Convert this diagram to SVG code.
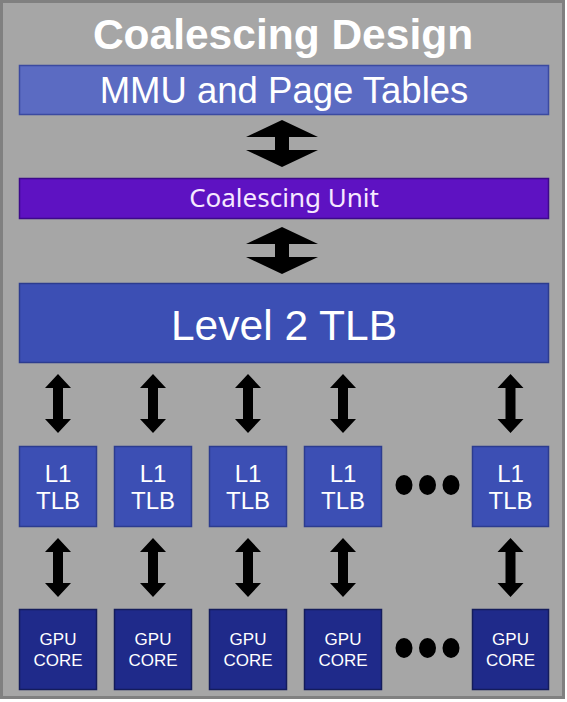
<svg xmlns="http://www.w3.org/2000/svg" xmlns:xlink="http://www.w3.org/1999/xlink" width="567" height="702" viewBox="0 0 567 702">
<style>
.t{font-family:"Liberation Sans",Arial,sans-serif;fill:#ffffff;text-anchor:middle}
.l1{fill:#3c4fb4;stroke:#2c3c8f;stroke-width:1.5}
.gpu{fill:#1f2a8a;stroke:#141c5c;stroke-width:1.5}
.arr{fill:#000000}
.dot{fill:#000000}
</style>
<defs>
<path id="sa" d="M0,0 L13,14 L5,14 L5,45 L13,45 L0,59 L-13,45 L-5,45 L-5,14 L-13,14 Z"/>
<path id="ba" d="M0,0 L36,17 L7,17 L7,30 L36,30 L0,47 L-36,30 L-7,30 L-7,17 L-36,17 Z"/>
</defs>
<rect x="1.5" y="1.5" width="562" height="696" fill="#a6a6a6" stroke="#808080" stroke-width="3"/>
<text class="t" x="283" y="49" font-size="42.5" font-weight="bold">Coalescing Design</text>
<g id="mmu">
<rect x="19.5" y="65.5" width="529" height="49" fill="#5b6bc2" stroke="#3b4aa0" stroke-width="1.5"/>
<text class="t" x="284" y="103" font-size="36.5">MMU and Page Tables</text>
</g>
<g id="coalescing">
<rect x="19.5" y="178.5" width="529" height="40" fill="#5e12c2" stroke="#3d0a8a" stroke-width="1.5"/>
<text x="284" y="207" font-size="26" font-family="'Noto Sans','Open Sans',sans-serif" fill="#f6e8ff" text-anchor="middle">Coalescing Unit</text>
</g>
<g id="l2tlb">
<rect x="19.5" y="283.5" width="529" height="79" fill="#3c4fb4" stroke="#2c3c8f" stroke-width="1.5"/>
<text class="t" x="284" y="340" font-size="42.5">Level 2 TLB</text>
</g>
<g id="l1tlb1"><rect class="l1" x="19.5" y="446.5" width="77" height="80"/><text class="t" x="58" y="482" font-size="24">L1</text><text class="t" x="58" y="509" font-size="24">TLB</text></g>
<g id="l1tlb2"><rect class="l1" x="114.5" y="446.5" width="77" height="80"/><text class="t" x="153" y="482" font-size="24">L1</text><text class="t" x="153" y="509" font-size="24">TLB</text></g>
<g id="l1tlb3"><rect class="l1" x="209.5" y="446.5" width="77" height="80"/><text class="t" x="248" y="482" font-size="24">L1</text><text class="t" x="248" y="509" font-size="24">TLB</text></g>
<g id="l1tlb4"><rect class="l1" x="304.5" y="446.5" width="77" height="80"/><text class="t" x="343" y="482" font-size="24">L1</text><text class="t" x="343" y="509" font-size="24">TLB</text></g>
<g id="l1tlb5"><rect class="l1" x="472.5" y="446.5" width="76" height="80"/><text class="t" x="510.5" y="482" font-size="24">L1</text><text class="t" x="510.5" y="509" font-size="24">TLB</text></g>
<g id="gpu1"><rect class="gpu" x="19.5" y="609.5" width="77" height="80"/><text class="t" x="58" y="645" font-size="17">GPU</text><text class="t" x="58" y="666" font-size="17">CORE</text></g>
<g id="gpu2"><rect class="gpu" x="114.5" y="609.5" width="77" height="80"/><text class="t" x="153" y="645" font-size="17">GPU</text><text class="t" x="153" y="666" font-size="17">CORE</text></g>
<g id="gpu3"><rect class="gpu" x="209.5" y="609.5" width="77" height="80"/><text class="t" x="248" y="645" font-size="17">GPU</text><text class="t" x="248" y="666" font-size="17">CORE</text></g>
<g id="gpu4"><rect class="gpu" x="304.5" y="609.5" width="77" height="80"/><text class="t" x="343" y="645" font-size="17">GPU</text><text class="t" x="343" y="666" font-size="17">CORE</text></g>
<g id="gpu5"><rect class="gpu" x="472.5" y="609.5" width="76" height="80"/><text class="t" x="510.5" y="645" font-size="17">GPU</text><text class="t" x="510.5" y="666" font-size="17">CORE</text></g>
<g id="ellipsis">
<ellipse class="dot" cx="404" cy="485" rx="8.5" ry="10"/>
<ellipse class="dot" cx="427.5" cy="485" rx="8.5" ry="10"/>
<ellipse class="dot" cx="451" cy="485" rx="8.5" ry="10"/>
<ellipse class="dot" cx="404" cy="648" rx="8.5" ry="10"/>
<ellipse class="dot" cx="427.5" cy="648" rx="8.5" ry="10"/>
<ellipse class="dot" cx="451" cy="648" rx="8.5" ry="10"/>
</g>
<g id="connectors" class="arr">
<use xlink:href="#ba" x="282" y="120"/>
<use xlink:href="#ba" x="282" y="227"/>
<use xlink:href="#sa" x="58" y="374"/>
<use xlink:href="#sa" x="153" y="374"/>
<use xlink:href="#sa" x="248" y="374"/>
<use xlink:href="#sa" x="343" y="374"/>
<use xlink:href="#sa" x="510.5" y="374"/>
<use xlink:href="#sa" x="58" y="538"/>
<use xlink:href="#sa" x="153" y="538"/>
<use xlink:href="#sa" x="248" y="538"/>
<use xlink:href="#sa" x="343" y="538"/>
<use xlink:href="#sa" x="510.5" y="538"/>
</g>
</svg>
